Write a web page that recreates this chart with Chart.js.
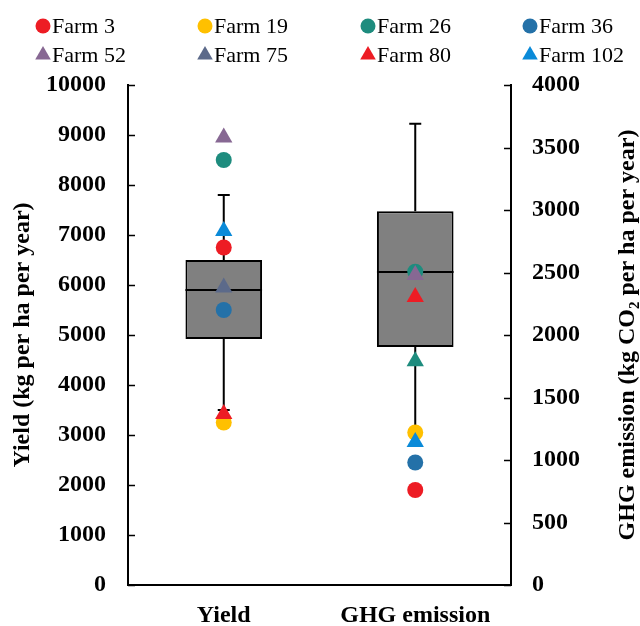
<!DOCTYPE html>
<html>
<head>
<meta charset="utf-8">
<script src="https://cdn.jsdelivr.net/npm/chart.js@4.4.1/dist/chart.umd.min.js"></script>
<style>
  html, body { margin: 0; padding: 0; background: #fff; }
  #wrap { width: 640px; height: 626px; position: relative; }
</style>
</head>
<body>
<div id="wrap"><canvas id="chart" width="640" height="626"></canvas></div>
<script>
// categories and axis ranges
const categories = ['Yield', 'GHG emission'];
const yieldTicks = [0, 1000, 2000, 3000, 4000, 5000, 6000, 7000, 8000, 9000, 10000];
const ghgTicks = [0, 500, 1000, 1500, 2000, 2500, 3000, 3500, 4000];

// box stats: [min, q1, median, q3, max]
const yieldBox = [3500, 4920, 5900, 6500, 7800];
const ghgBox = [1230, 1905, 2505, 2990, 3690];

// individual farms
const farms = ['Farm 3', 'Farm 19', 'Farm 26', 'Farm 36', 'Farm 52', 'Farm 75', 'Farm 80', 'Farm 102'];
const farmShapes = ['circle', 'circle', 'circle', 'circle', 'triangle', 'triangle', 'triangle', 'triangle'];
const farmColors = ['#ED1C24', '#FFC000', '#1E8C7E', '#2471A8', '#876893', '#5C6A8A', '#ED1C24', '#0A8AD8'];
const farmYield = [6750, 3250, 8500, 5500, 8950, 5950, 3420, 7080];
const farmGhg = [760, 1220, 2507, 980, 2480, 1790, 2305, 1145];
// Farm 75's emission marker is teal in the figure
const farmGhgColors = ['#ED1C24', '#FFC000', '#1E8C7E', '#2471A8', '#876893', '#1E8C7E', '#ED1C24', '#0A8AD8'];

const serif = '"Liberation Serif", "Times New Roman", serif';

const datasets = [
    {
        type: 'bar',
        data: [[yieldBox[1], yieldBox[3]], null],
        boxStats: yieldBox,
        yAxisID: 'y',
        order: 10
    },
    {
        type: 'bar',
        data: [null, [ghgBox[1], ghgBox[3]]],
        boxStats: ghgBox,
        yAxisID: 'y2',
        order: 10
    }
];
datasets.forEach(ds => {
    ds.backgroundColor = '#808080';
    ds.borderColor = '#000';
    ds.borderWidth = 2;
    ds.borderSkipped = false;
    ds.grouped = false;
    ds.barPercentage = 0.4;
    ds.categoryPercentage = 1;
});

farms.forEach((farm, i) => {
    const r = farmShapes[i] === 'circle' ? 8 : 10;
    datasets.push({
        type: 'line', label: farm, showLine: false,
        data: [farmYield[i], null], yAxisID: 'y',
        pointStyle: farmShapes[i], pointRadius: r, pointBorderWidth: 0,
        pointBackgroundColor: farmColors[i], pointBorderColor: farmColors[i],
        order: -i
    });
    datasets.push({
        type: 'line', label: farm, showLine: false,
        data: [null, farmGhg[i]], yAxisID: 'y2',
        pointStyle: farmShapes[i], pointRadius: r, pointBorderWidth: 0,
        pointBackgroundColor: farmGhgColors[i], pointBorderColor: farmGhgColors[i],
        order: -i
    });
});

// median, whiskers and caps on top of each box
const boxExtras = {
    id: 'boxExtras',
    afterDatasetDraw(chart, args) {
        const ds = chart.data.datasets[args.index];
        if (!ds.boxStats) return;
        const meta = args.meta;
        const yScale = chart.scales[ds.yAxisID];
        const ctx = chart.ctx;
        meta.data.forEach((bar, j) => {
            if (ds.data[j] == null) return;
            const p = bar.getProps(['x', 'width'], true);
            const s = ds.boxStats;
            const yMin = yScale.getPixelForValue(s[0]);
            const yQ1 = yScale.getPixelForValue(s[1]);
            const yMed = yScale.getPixelForValue(s[2]);
            const yQ3 = yScale.getPixelForValue(s[3]);
            const yMax = yScale.getPixelForValue(s[4]);
            ctx.save();
            ctx.strokeStyle = '#000';
            ctx.lineWidth = 2;
            ctx.beginPath();
            ctx.moveTo(p.x - p.width / 2, yMed);
            ctx.lineTo(p.x + p.width / 2, yMed);
            ctx.moveTo(p.x, yQ3);
            ctx.lineTo(p.x, yMax);
            ctx.moveTo(p.x - 6, yMax);
            ctx.lineTo(p.x + 6, yMax);
            ctx.moveTo(p.x, yQ1);
            ctx.lineTo(p.x, yMin);
            ctx.moveTo(p.x - 6, yMin);
            ctx.lineTo(p.x + 6, yMin);
            ctx.stroke();
            ctx.restore();
        });
    }
};

// inward tick marks, right axis title and legend
const decorations = {
    id: 'decorations',
    afterDraw(chart) {
        const ctx = chart.ctx;
        const area = chart.chartArea;
        const y = chart.scales.y;
        const y2 = chart.scales.y2;
        ctx.save();
        ctx.strokeStyle = '#000';
        ctx.lineWidth = 1.5;
        ctx.beginPath();
        yieldTicks.forEach(v => {
            const py = Math.round(y.getPixelForValue(v)) + 0.5;
            ctx.moveTo(area.left, py);
            ctx.lineTo(area.left + 7, py);
        });
        ghgTicks.forEach(v => {
            const py = Math.round(y2.getPixelForValue(v)) + 0.5;
            ctx.moveTo(area.right - 7, py);
            ctx.lineTo(area.right, py);
        });
        ctx.stroke();

        // right axis title with subscript
        const parts = [
            { t: 'GHG emission (kg CO', f: 'bold 24px ' + serif, dy: 0 },
            { t: '2', f: 'bold 15px ' + serif, dy: 5 },
            { t: ' per ha per year)', f: 'bold 24px ' + serif, dy: 0 }
        ];
        let total = 0;
        parts.forEach(p => { ctx.font = p.f; p.w = ctx.measureText(p.t).width; total += p.w; });
        ctx.translate(626, (area.top + area.bottom) / 2);
        ctx.rotate(-Math.PI / 2);
        ctx.fillStyle = '#000';
        ctx.textBaseline = 'alphabetic';
        let x = -total / 2;
        parts.forEach(p => {
            ctx.font = p.f;
            ctx.fillText(p.t, x, 8 + p.dy);
            x += p.w;
        });
        ctx.restore();

        // legend: 4 columns, 2 rows
        const colX = [43, 205, 368, 530];
        const rowY = [26, 55];
        ctx.save();
        ctx.font = '22px ' + serif;
        ctx.textBaseline = 'middle';
        farms.forEach((farm, i) => {
            const cx = colX[i % 4];
            const cy = rowY[Math.floor(i / 4)];
            ctx.fillStyle = farmColors[i];
            ctx.beginPath();
            if (farmShapes[i] === 'circle') {
                ctx.arc(cx, cy, 7.5, 0, Math.PI * 2);
            } else {
                const r = 9;
                ctx.moveTo(cx, cy - r);
                ctx.lineTo(cx + r * 0.866, cy + r / 2);
                ctx.lineTo(cx - r * 0.866, cy + r / 2);
                ctx.closePath();
            }
            ctx.fill();
            ctx.fillStyle = '#000';
            ctx.fillText(farm, cx + 9, cy + 1);
        });
        ctx.restore();
    }
};

const tickFont = { family: serif, size: 24, weight: 'bold' };

new Chart(document.getElementById('chart'), {
    data: { labels: categories, datasets: datasets },
    options: {
        responsive: false,
        animation: false,
        layout: { padding: { top: 85, left: 0, right: 0, bottom: 0 } },
        plugins: { legend: { display: false }, tooltip: { enabled: false } },
        scales: {
            x: {
                type: 'category',
                grid: { display: false, drawTicks: false },
                border: { display: true, color: '#000', width: 2 },
                ticks: { color: '#000', font: tickFont, padding: 16 },
                afterFit(scale) { scale.height = 41; }
            },
            y: {
                position: 'left',
                min: 0, max: 10000,
                grid: { display: false, drawTicks: false },
                border: { display: true, color: '#000', width: 2 },
                afterBuildTicks(scale) { scale.ticks = yieldTicks.map(v => ({ value: v })); },
                ticks: { color: '#000', font: tickFont, padding: 22, callback: v => String(v) },
                title: {
                    display: true, text: 'Yield (kg per ha per year)', color: '#000',
                    font: tickFont, padding: { top: 8 }
                },
                afterFit(scale) { scale.width = 128; }
            },
            y2: {
                position: 'right',
                min: 0, max: 4000,
                grid: { display: false, drawTicks: false },
                border: { display: true, color: '#000', width: 2 },
                afterBuildTicks(scale) { scale.ticks = ghgTicks.map(v => ({ value: v })); },
                ticks: { color: '#000', font: tickFont, padding: 21, callback: v => String(v) },
                afterFit(scale) { scale.width = 129; }
            }
        }
    },
    plugins: [boxExtras, decorations]
});
</script>
</body>
</html>
